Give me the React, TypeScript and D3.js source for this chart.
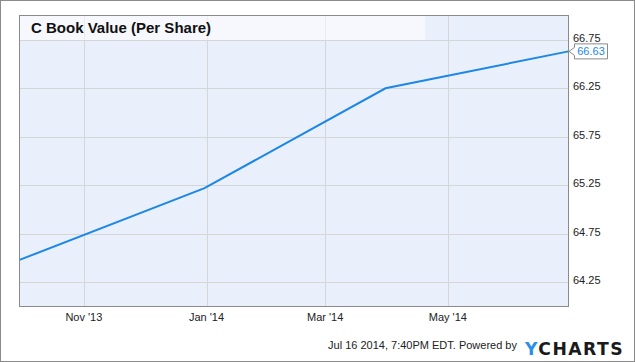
import { useEffect, useRef } from 'react'
import * as d3 from 'd3'

// quarter-end book value per share
const dates = ['2013-09-30', '2013-12-31', '2014-03-31', '2014-06-30']
const values = [64.48, 65.22, 66.25, 66.63]
const yTicks = [64.25, 64.75, 65.25, 65.75, 66.25, 66.75]
const xTicks = ['2013-11-01', '2014-01-01', '2014-03-01', '2014-05-01']

const W = 635
const H = 362

const App = () => {
  const ref = useRef<SVGSVGElement>(null)

  useEffect(() => {
    const svg = d3.select(ref.current)
    svg.selectAll('*').remove()

    const parse = d3.utcParse('%Y-%m-%d')
    const data = dates.map((d, i) => ({ date: parse(d)!, value: values[i] }))

    const left = 19.5, right = 568.5, top = 15.5, bottom = 306.5
    const font = '"Liberation Sans", Arial, sans-serif'

    const x = d3.scaleUtc()
      .domain([parse(dates[0])!, parse(dates[dates.length - 1])!])
      .range([left, right])
    const y = d3.scaleLinear().domain([64, 67]).range([bottom, top])

    // outer frame
    svg.append('rect')
      .attr('x', 0.5).attr('y', 0.5)
      .attr('width', W - 1).attr('height', H - 1)
      .attr('fill', '#fff').attr('stroke', '#8a8a8a')

    // plot background
    svg.append('rect')
      .attr('x', left).attr('y', top)
      .attr('width', right - left).attr('height', bottom - top)
      .attr('fill', '#eaf0fb')

    // grid
    svg.append('g').selectAll('line')
      .data(yTicks)
      .enter().append('line')
      .attr('x1', left).attr('x2', right)
      .attr('y1', d => Math.round(y(d)) + 0.5).attr('y2', d => Math.round(y(d)) + 0.5)
      .attr('stroke', '#d6d6d6')
    svg.append('g').selectAll('line')
      .data(xTicks.map(d => parse(d)!))
      .enter().append('line')
      .attr('x1', d => Math.round(x(d)) + 0.5).attr('x2', d => Math.round(x(d)) + 0.5)
      .attr('y1', top).attr('y2', bottom)
      .attr('stroke', '#d6d6d6')

    // title band
    svg.append('rect')
      .attr('x', left).attr('y', top)
      .attr('width', 425 - left).attr('height', Math.round(y(66.75)) - top)
      .attr('fill', '#ffffff').attr('fill-opacity', 0.55)
    svg.append('text')
      .attr('x', 31).attr('y', 33)
      .attr('font-family', font).attr('font-size', 15).attr('font-weight', 'bold')
      .attr('fill', '#111')
      .text('C Book Value (Per Share)')

    // line
    const line = d3.line<{ date: Date, value: number }>()
      .x(d => x(d.date))
      .y(d => y(d.value))
    svg.append('path')
      .datum(data)
      .attr('d', line)
      .attr('fill', 'none')
      .attr('stroke', '#1c87e6')
      .attr('stroke-width', 2)

    // plot border
    svg.append('rect')
      .attr('x', left).attr('y', top)
      .attr('width', right - left).attr('height', bottom - top)
      .attr('fill', 'none').attr('stroke', '#8a8a8a')

    // y axis labels
    svg.append('g').selectAll('text')
      .data(yTicks)
      .enter().append('text')
      .attr('x', 573).attr('y', d => y(d) + 2)
      .attr('font-family', font).attr('font-size', 11).attr('fill', '#222')
      .text(d => d3.format('.2f')(d))

    // x axis labels
    const fmt = d3.utcFormat("%b '%y")
    svg.append('g').selectAll('text')
      .data(xTicks.map(d => parse(d)!))
      .enter().append('text')
      .attr('x', d => x(d)).attr('y', 321)
      .attr('text-anchor', 'middle')
      .attr('font-family', font).attr('font-size', 11).attr('fill', '#222')
      .text(d => fmt(d))

    // last value marker
    const last = data[data.length - 1]
    const ly = y(last.value)
    const bx = 574.5, bw = 33, bh = 15
    svg.append('path')
      .attr('d', `M${right + 0.5},${ly} L${bx},${ly - 4} L${bx},${ly - bh / 2} L${bx + bw},${ly - bh / 2} L${bx + bw},${ly + bh / 2} L${bx},${ly + bh / 2} L${bx},${ly + 4} Z`)
      .attr('fill', '#fff').attr('stroke', '#8a8a8a')
    svg.append('text')
      .attr('x', bx + bw / 2).attr('y', ly + 4)
      .attr('text-anchor', 'middle')
      .attr('font-family', font).attr('font-size', 11).attr('fill', '#1c87e6')
      .text(d3.format('.2f')(last.value))

    // footer
    svg.append('text')
      .attr('x', 517).attr('y', 349)
      .attr('text-anchor', 'end')
      .attr('font-family', font).attr('font-size', 11).attr('fill', '#222')
      .text('Jul 16 2014, 7:40PM EDT. Powered by')
    const logo = svg.append('text')
      .attr('x', 525).attr('y', 355)
      .attr('font-family', '"DejaVu Sans", sans-serif').attr('font-size', 18)
      .attr('font-weight', 'bold').attr('letter-spacing', 1.5)
      .attr('textLength', 99).attr('lengthAdjust', 'spacingAndGlyphs')
    logo.append('tspan').attr('fill', '#2a8fe8').text('Y')
    logo.append('tspan').attr('fill', '#1a1a1a').text('CHARTS')
  }, [])

  return (
    <svg ref={ref} width={W} height={H}
      style={{ position: 'absolute', left: 0, top: 0, display: 'block' }} />
  )
}

export default App
